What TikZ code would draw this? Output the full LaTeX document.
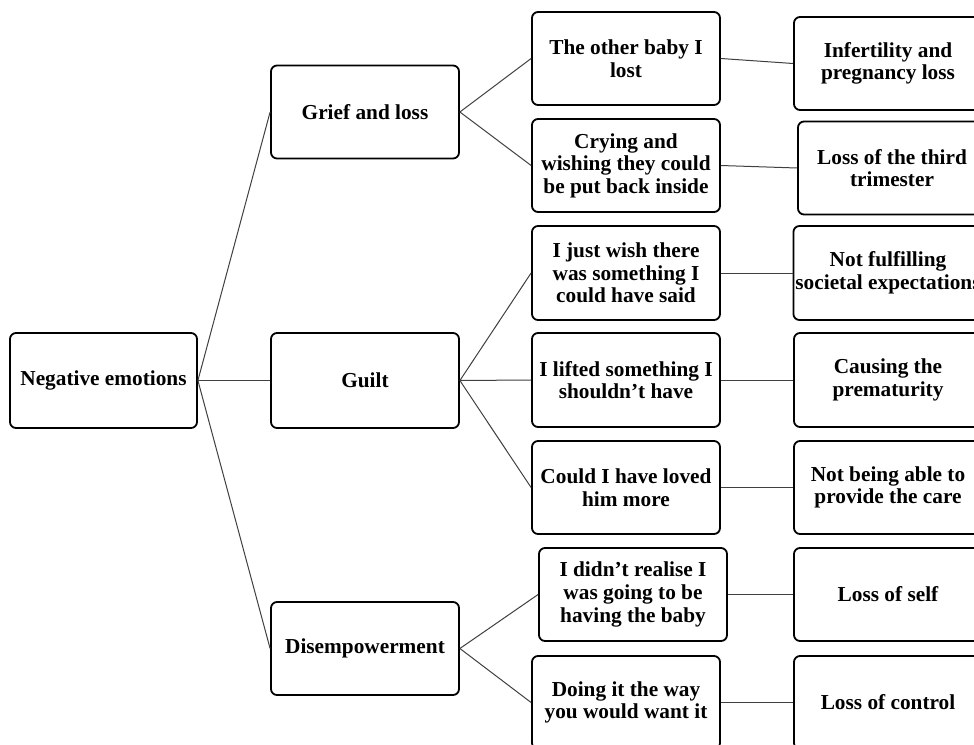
\documentclass[tikz,border=0pt]{standalone}
\usepackage{fontspec}
\setmainfont{Liberation Serif}
\begin{document}
\begin{tikzpicture}[x={(1pt,0)},y={(0,-1pt)},
  box/.style={draw=black, line width=1.8pt, rounded corners=6pt, fill=white,
    minimum width=188pt, minimum height=93pt, inner sep=2pt,
    align=center, font=\bfseries\fontsize{21.3}{22.6}\selectfont},
  link/.style={draw=black!75, line width=1pt}]
\clip (0,0) rectangle (974,744);
\fill[white] (0,0) rectangle (974,744);
% level 0
\node[box, minimum width=187pt, minimum height=95pt] (neg) at (103.5,380.5) {Negative emotions};
% level 1
\node[box] (grief) at (365,112) {Grief and loss};
\node[box, minimum height=95pt] (guilt) at (365,380.5) {Guilt};
\node[box] (dis) at (365,648.5) {Disempowerment};
% level 2
\node[box] (m1) at (626,58.5) {The other baby I\\lost};
\node[box] (m2) at (626,165.5) {Crying and\\wishing they could\\be put back inside};
\node[box, minimum height=94pt] (m3) at (626,273) {I just wish there\\was something I\\could have said};
\node[box, minimum height=94pt] (m4) at (626,380) {I lifted something I\\shouldn’t have};
\node[box] (m5) at (626,487.5) {Could I have loved\\him more};
\node[box] (m6) at (633,594.5) {I didn’t realise I\\was going to be\\having the baby};
\node[box] (m7) at (626,702.5) {Doing it the way\\you would want it};
% level 3
\node[box] (r1) at (888,63.5) {Infertility and\\pregnancy loss};
\node[box] (r2) at (892,168) {Loss of the third\\trimester};
\node[box, minimum height=94pt] (r3) at (888,273) {Not fulfilling\\societal expectations};
\node[box, minimum height=94pt] (r4) at (888,380) {Causing the\\prematurity};
\node[box] (r5) at (888,487.5) {Not being able to\\provide the care};
\node[box] (r6) at (888,594.5) {Loss of self};
\node[box] (r7) at (888,702.5) {Loss of control};
% connectors
\draw[link] (neg.east) -- (grief.west);
\draw[link] (neg.east) -- (guilt.west);
\draw[link] (neg.east) -- (dis.west);
\draw[link] (grief.east) -- (m1.west);
\draw[link] (grief.east) -- (m2.west);
\draw[link] (guilt.east) -- (m3.west);
\draw[link] (guilt.east) -- (m4.west);
\draw[link] (guilt.east) -- (m5.west);
\draw[link] (dis.east) -- (m6.west);
\draw[link] (dis.east) -- (m7.west);
\draw[link] (m1.east) -- (r1.west);
\draw[link] (m2.east) -- (r2.west);
\draw[link] (m3.east) -- (r3.west);
\draw[link] (m4.east) -- (r4.west);
\draw[link] (m5.east) -- (r5.west);
\draw[link] (m6.east) -- (r6.west);
\draw[link] (m7.east) -- (r7.west);
\end{tikzpicture}
\end{document}
